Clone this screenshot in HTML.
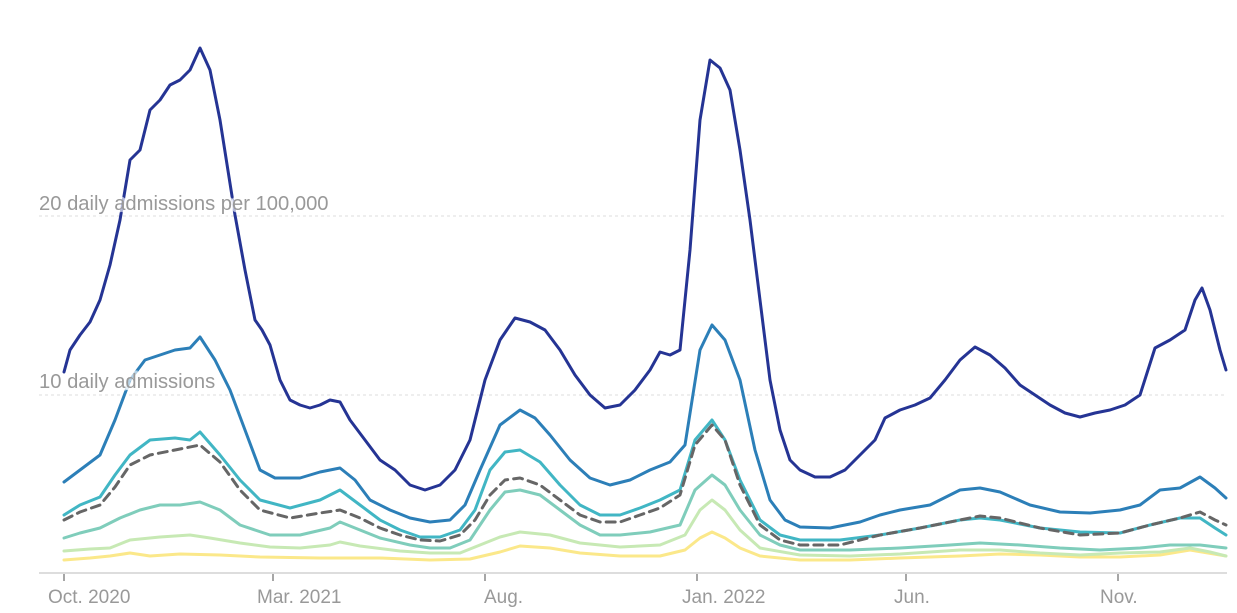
<!DOCTYPE html>
<html><head><meta charset="utf-8"><style>
html,body{margin:0;padding:0;background:#fff;}
svg{display:block;font-family:"Liberation Sans",Arial,sans-serif;}
.l{fill:none;stroke-width:3;stroke-linejoin:round;stroke-linecap:round;}
.t{font-size:19px;fill:#999;}
.h{font-size:20.2px;fill:#999;stroke:rgba(255,255,255,0.65);stroke-width:5;paint-order:stroke;}
</style></head><body>
<svg width="1237" height="613" viewBox="0 0 1237 613">
<line x1="39" y1="216" x2="1227" y2="216" stroke="#ddd" stroke-dasharray="3,3"/>
<line x1="39" y1="395" x2="1227" y2="395" stroke="#ddd" stroke-dasharray="3,3"/>
<line x1="39" y1="573" x2="1227" y2="573" stroke="#ddd" stroke-width="2"/>
<g stroke="#888" stroke-width="1.5">
<line x1="64" y1="574" x2="64" y2="581"/><line x1="273" y1="574" x2="273" y2="581"/><line x1="485" y1="574" x2="485" y2="581"/><line x1="697" y1="574" x2="697" y2="581"/><line x1="906" y1="574" x2="906" y2="581"/><line x1="1118" y1="574" x2="1118" y2="581"/>
</g>
<g class="t">
<text x="48" y="603">Oct. 2020</text><text x="257" y="603">Mar. 2021</text><text x="484" y="603">Aug.</text><text x="682" y="603">Jan. 2022</text><text x="894" y="603">Jun.</text><text x="1100" y="603">Nov.</text>
</g>
<polyline class="l" stroke="#fbe88a" points="64,560 90,558 110,556 130,553 150,556 180,554 220,555 260,557 320,558 380,558 430,560 470,559 500,552 520,546 550,548 580,553 620,556 660,556 685,550 700,538 712,532 725,538 740,548 760,556 800,560 850,560 900,558 960,556 1000,554 1040,555 1080,557 1120,557 1160,555 1190,550 1226,556"/>
<polyline class="l" stroke="#c7e9b4" points="64,551 90,549 110,548 130,540 160,537 190,535 210,538 240,543 270,547 300,548 330,545 340,542 360,546 400,551 430,553 460,553 480,545 500,537 520,532 550,535 580,543 620,547 660,545 685,535 700,510 712,500 725,510 740,530 760,548 800,555 850,556 900,554 960,550 1000,550 1040,553 1080,555 1120,553 1160,552 1190,548 1210,552 1226,556"/>
<polyline class="l" stroke="#7fcdbb" points="64,538 80,533 100,528 120,518 140,510 160,505 180,505 200,502 220,510 240,525 270,535 300,535 330,528 340,522 360,530 380,538 410,545 430,548 450,548 470,540 490,510 505,492 520,490 540,495 560,510 580,525 600,535 620,535 650,532 680,525 695,490 712,475 725,485 740,510 760,535 780,545 800,550 850,550 900,548 950,545 980,543 1020,545 1060,548 1100,550 1140,548 1170,545 1200,545 1226,548"/>
<polyline class="l" stroke="#41b6c4" points="64,515 80,505 100,497 115,475 130,455 150,440 175,438 190,440 200,432 220,455 240,480 260,500 290,508 320,500 340,490 360,505 380,520 400,530 420,537 440,537 460,530 475,510 490,470 505,452 520,450 540,462 560,485 580,505 600,515 620,515 640,508 660,500 680,490 695,440 712,420 725,440 740,480 760,520 780,535 800,540 840,540 880,535 920,528 960,520 980,518 1000,520 1040,528 1080,532 1120,533 1150,525 1180,518 1200,518 1215,528 1226,535"/>
<polyline class="l" stroke="#666" stroke-dasharray="9,6" points="64,520 80,512 100,505 115,487 130,465 150,455 175,450 200,445 220,462 240,490 260,510 290,518 320,513 340,510 360,518 380,528 400,535 420,540 440,541 460,535 475,520 490,495 505,480 520,478 540,485 560,500 580,515 600,522 620,522 640,515 660,508 680,495 695,445 712,425 725,440 740,485 760,525 780,540 800,545 840,545 880,535 920,528 960,520 980,516 1000,518 1040,528 1080,535 1120,533 1150,525 1180,518 1200,512 1215,520 1226,525"/>
<polyline class="l" stroke="#2c7fb8" points="64,482 80,470 100,455 115,420 130,380 145,360 160,355 175,350 190,348 200,337 215,360 230,390 245,430 260,470 275,478 300,478 320,472 340,468 355,480 370,500 390,510 410,518 430,522 450,520 465,505 480,470 500,425 520,410 535,418 550,435 570,460 590,478 610,485 630,480 650,470 670,462 685,445 700,350 712,325 725,340 740,380 755,450 770,500 785,520 800,527 830,528 860,522 880,515 900,510 930,505 960,490 980,488 1000,492 1030,505 1060,512 1090,513 1120,510 1140,505 1160,490 1180,488 1200,477 1215,488 1226,498"/>
<polyline class="l" stroke="#253494" points="64,372 70,350 80,335 90,322 100,300 110,265 120,220 130,160 140,150 150,110 160,100 170,85 180,80 190,70 200,48 210,70 220,120 235,215 245,270 255,320 262,330 270,345 280,380 290,400 300,405 310,408 320,405 330,400 340,402 350,420 365,440 380,460 395,470 410,485 425,490 440,485 455,470 470,440 485,380 500,340 515,318 530,322 545,330 560,350 575,375 590,395 605,408 620,405 635,390 650,370 660,352 670,355 680,350 690,250 700,120 710,60 720,68 730,90 740,150 750,220 760,300 770,380 780,430 790,460 800,470 815,477 830,477 845,470 860,455 875,440 885,418 900,410 915,405 930,398 945,380 960,360 975,347 990,355 1005,368 1020,385 1035,395 1050,405 1065,413 1080,417 1095,413 1110,410 1125,405 1140,395 1155,348 1170,340 1185,330 1195,300 1202,288 1210,310 1220,350 1226,370"/>
<text class="h" x="39" y="210">20 daily admissions per 100,000</text>
<text class="h" x="39" y="388">10 daily admissions</text>
</svg>
</body></html>
